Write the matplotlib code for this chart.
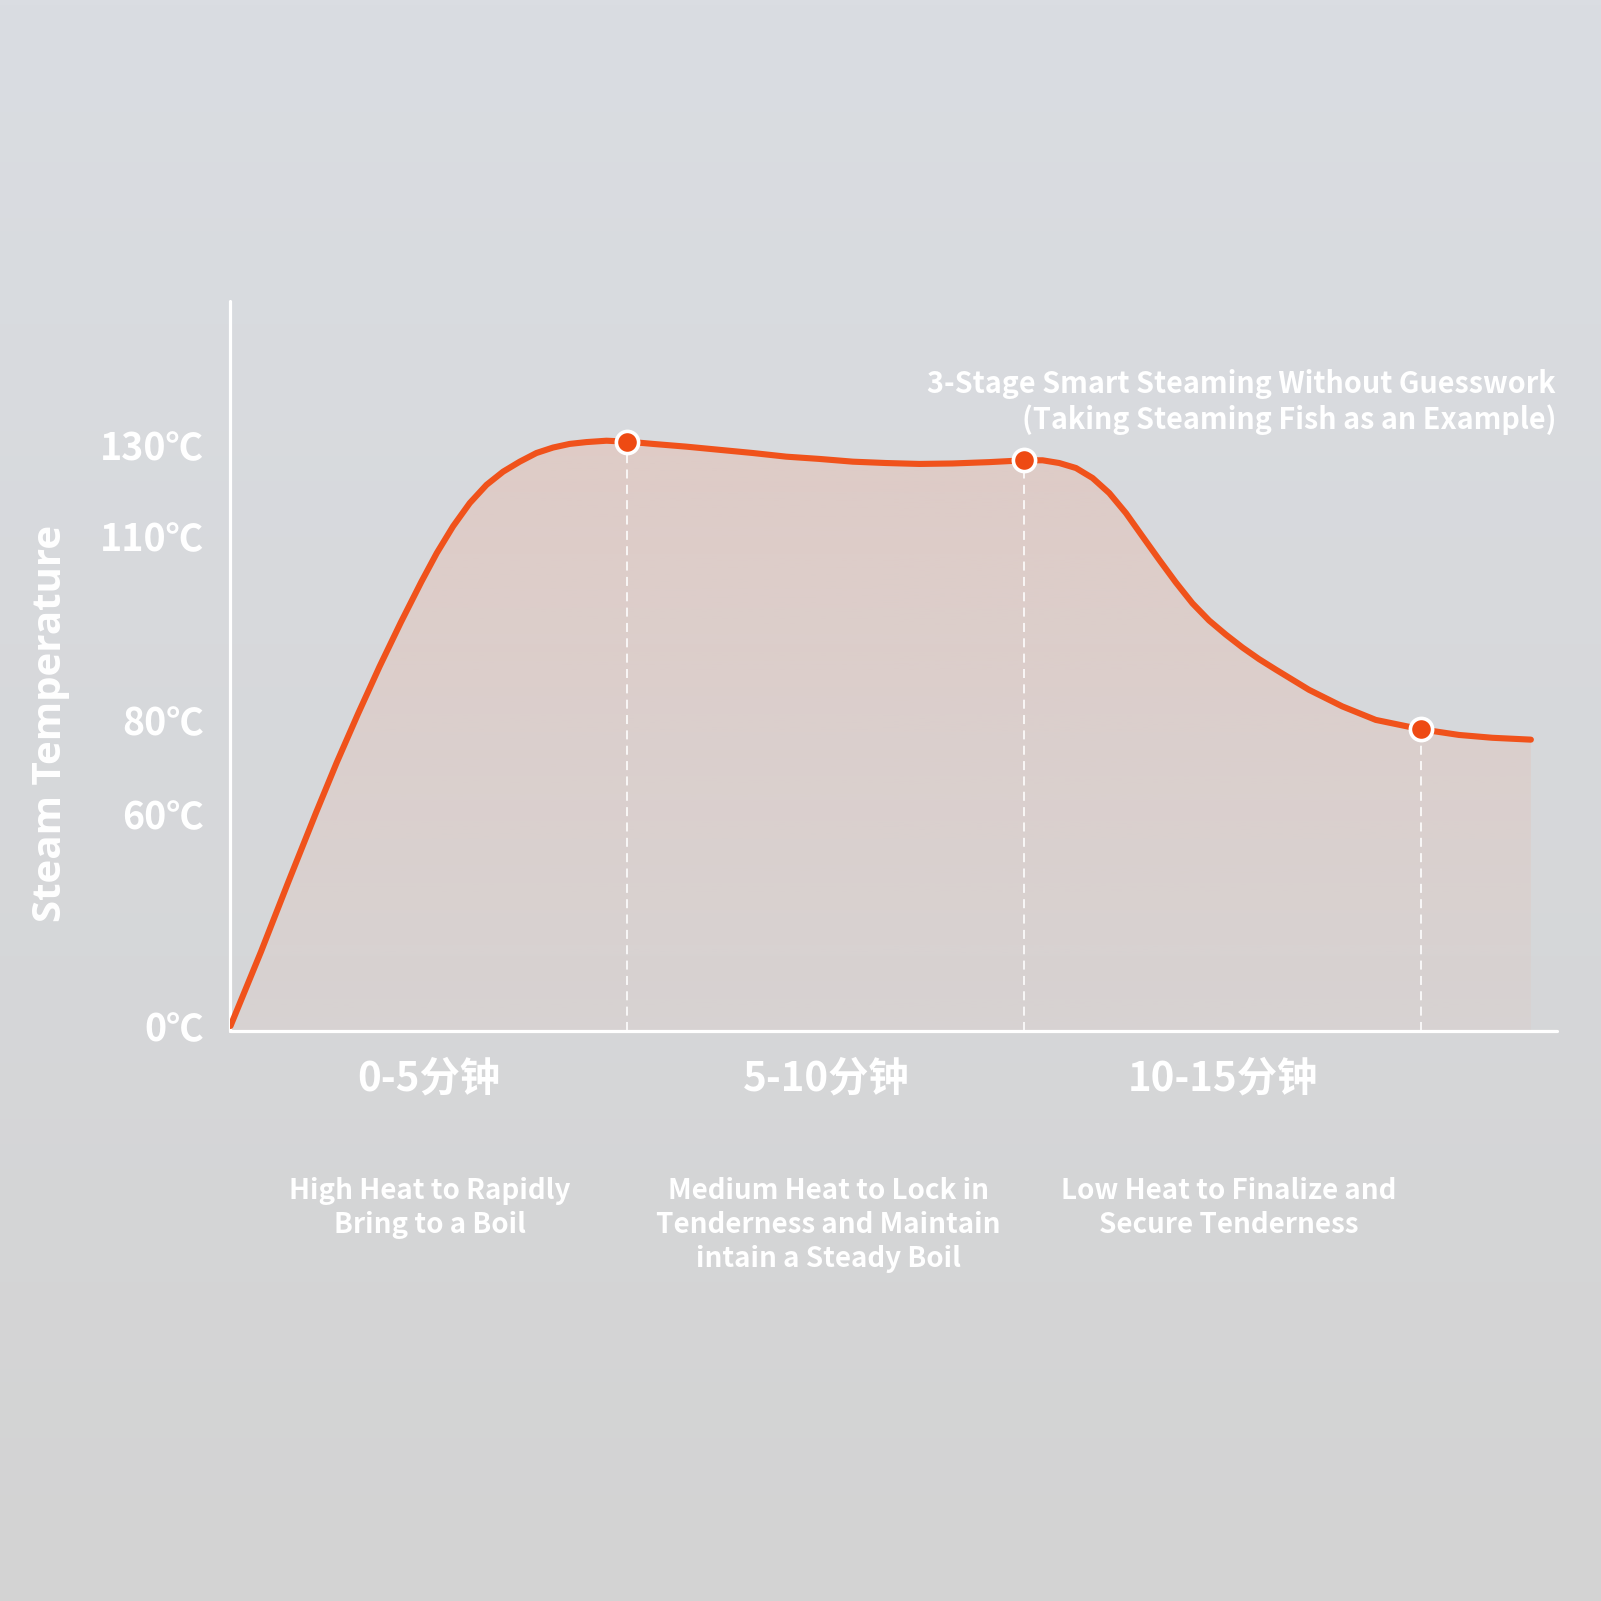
import matplotlib
matplotlib.use('Agg')
import matplotlib.pyplot as plt
from matplotlib.patches import Polygon
from matplotlib.transforms import blended_transform_factory
import numpy as np

# ---- data ----
minutes = [0.0, 0.384, 0.726, 1.076, 1.340, 1.607, 1.878, 2.146, 2.404, 2.599, 2.804,
           3.014, 3.225, 3.434, 3.644, 3.854, 4.063, 4.273, 4.483, 4.735, 5.0,
           5.322, 5.742, 6.161, 6.580, 7.001, 7.420, 7.839, 8.259, 8.678, 9.094, 9.559,
           10.0, 10.230, 10.440, 10.651, 10.860, 11.070, 11.280, 11.489, 11.699, 11.909,
           12.118, 12.328, 12.539, 12.748, 12.958, 13.168, 13.587, 14.006, 14.427,
           15.0, 15.476, 15.894, 16.381]
temps = [0.0, 21.0, 40.6, 60.2, 71.0, 81.0, 88.7, 95.9, 102.5, 107.2, 112.1,
         117.2, 121.2, 124.1, 126.3, 128.2, 129.4, 130.2, 130.6, 130.9, 130.7,
         130.2, 129.6, 128.9, 128.2, 127.4, 126.9, 126.3, 126.0, 125.8, 125.9, 126.2,
         126.6, 126.6, 126.0, 124.9, 122.7, 119.4, 115.0, 109.9, 106.1, 102.4,
         99.0, 96.2, 93.9, 91.8, 89.9, 88.2, 84.9, 82.2, 80.0,
         78.0, 76.8, 76.2, 75.8]
stage_minutes = [5.0, 10.0, 15.0]
stage_temps = [130.7, 126.6, 78.0]

ytick_vals = [0, 60, 80, 110, 130]
ytick_labels = ["0℃", "60℃", "80℃", "110℃", "130℃"]
stage_centers = [2.5, 7.5, 12.5]
stage_labels = ["0-5分钟", "5-10分钟", "10-15分钟"]
stage_notes = ["High Heat to Rapidly\nBring to a Boil",
               "Medium Heat to Lock in\nTenderness and Maintain\nintain a Steady Boil",
               "Low Heat to Finalize and\nSecure Tenderness"]
note_x = [2.51, 7.53, 12.58]
title = "3-Stage Smart Steaming Without Guesswork\n(Taking Steaming Fish as an Example)"
ylabel = "Steam Temperature"

# the printed y axis is not linear: tick -> height above the x axis (px)
scale_T = [-20, 0, 60, 80, 110, 130, 200]
scale_pos = [-65.7, 5, 217, 311, 495, 586, 904.5]

LINE = '#f0521b'
CJK = ['Noto Sans CJK SC', 'DejaVu Sans']

W = 1601
fig = plt.figure(figsize=(W / 100, W / 100), dpi=100)

# background gradient
bg = fig.add_axes([0, 0, 1, 1], zorder=-5)
top_c = np.array([218, 221, 226]) / 255
bot_c = np.array([211, 211, 211]) / 255
t = np.linspace(0, 1, 256)[:, None]
grad = top_c * (1 - t) + bot_c * t
bg.imshow(grad[:, None, :], aspect='auto', extent=[0, 1, 0, 1])
bg.axis('off')

ax = fig.add_axes([230 / W, 1 - 1031 / W, (1557 - 230) / W, (1031 - 301) / W])
ax.set_facecolor('none')
ax.set_yscale('function', functions=(lambda v: np.interp(v, scale_T, scale_pos),
                                     lambda p: np.interp(p, scale_pos, scale_T)))
ybot = -1.415
ax.set_xlim(-0.006, 16.71)
ax.set_ylim(ybot, 161.6)

# gradient fill under the curve
verts = list(zip(minutes, temps)) + [(minutes[-1], ybot), (minutes[0], ybot)]
clip = Polygon(verts, closed=True, facecolor='none', edgecolor='none', transform=ax.transData)
ax.add_patch(clip)
tt = np.linspace(0, 1, 256)[:, None]
rgba = np.zeros((256, 1, 4))
rgba[..., 0] = 236 / 255
rgba[..., 1] = 178 / 255
rgba[..., 2] = 158 / 255
rgba[..., 3] = 0.36 * (1 - tt) + 0.10 * tt
im = ax.imshow(rgba, aspect='auto', extent=[0, 1, 0, 0.81], transform=ax.transAxes, zorder=1)
im.set_clip_path(clip)

# dashed stage guides
for sx, sy in zip(stage_minutes, stage_temps):
    ax.plot([sx, sx], [ybot, sy], color='white', lw=1.3, ls=(0, (5, 3.5)), zorder=2, alpha=0.9)

ax.plot(minutes, temps, color=LINE, lw=4.4, solid_capstyle='round', solid_joinstyle='round', zorder=3)
ax.plot(stage_minutes, stage_temps, 'o', ms=16, mfc='#ee4a13', mec='white', mew=2.6, zorder=4)

for s in ['top', 'right']:
    ax.spines[s].set_visible(False)
for s in ['left', 'bottom']:
    ax.spines[s].set_color('white')
    ax.spines[s].set_linewidth(2.3)
    ax.spines[s].set_capstyle('round')

ax.set_yticks(ytick_vals)
ax.set_yticklabels(ytick_labels, family=CJK, fontsize=27, color='white', fontweight='semibold')
ax.set_xticks(stage_centers)
ax.set_xticklabels(stage_labels, family=CJK, fontsize=29, color='white', fontweight='bold')
ax.tick_params(axis='y', length=0, pad=19)
ax.tick_params(axis='x', length=0, pad=20)

note_tr = blended_transform_factory(ax.transData, fig.transFigure)
for nx, note in zip(note_x, stage_notes):
    ax.text(nx, 1 - 1177 / W, note, transform=note_tr, ha='center', va='top',
            family=CJK, fontsize=20, color='white', fontweight='bold', linespacing=1.28)

fig.text(1556 / W, 1 - 402 / W, title, ha='right', va='center', multialignment='right',
         family=CJK, fontsize=20.7, color='white', fontweight='bold', linespacing=1.22)
fig.text(50 / W, 1 - 723 / W, ylabel, rotation=90, ha='center', va='center',
         family=['Open Sans', 'DejaVu Sans'], fontsize=29, color='white', fontweight='bold')

fig.savefig('out.png', dpi=100)
